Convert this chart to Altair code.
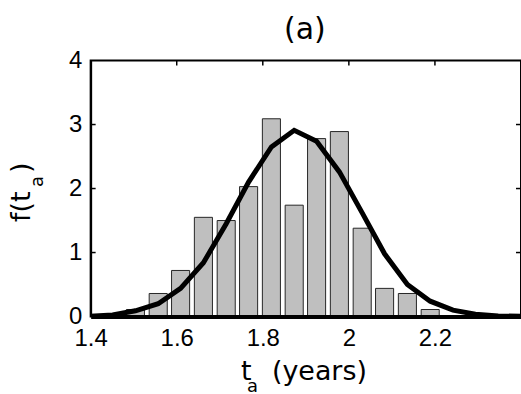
import altair as alt
import pandas as pd

# ---- data ----
bin_centers = [1.504, 1.557, 1.609, 1.662, 1.715, 1.767, 1.820, 1.873,
               1.925, 1.978, 2.031, 2.083, 2.136, 2.189]
densities = [0.11, 0.36, 0.72, 1.55, 1.50, 2.03, 3.09, 1.74,
             2.78, 2.89, 1.38, 0.44, 0.36, 0.11]

curve_x = [1.398, 1.451, 1.504, 1.557, 1.609, 1.662, 1.715, 1.767, 1.820, 1.873,
           1.925, 1.978, 2.031, 2.083, 2.136, 2.189, 2.242, 2.294, 2.347, 2.400]
curve_y = [0.005, 0.025, 0.09, 0.20, 0.44, 0.84, 1.45, 2.10, 2.65, 2.91,
           2.74, 2.26, 1.62, 0.98, 0.50, 0.24, 0.10, 0.035, 0.01, 0.003]

x_ticks = [1.4, 1.6, 1.8, 2.0, 2.2]
y_ticks = [0, 1, 2, 3, 4]
inner_x_ticks = [1.6, 1.8, 2.0, 2.2]
inner_y_ticks = [1, 2, 3]

title_text = "(a)"
xlabel_main, xlabel_sub, xlabel_rest = "t", "a", "(years)"
ylabel_main, ylabel_sub, ylabel_rest = "f(t", "a", ")"

# ---- layout / style ----
W, H = 432, 257
TICK_FONT = "Liberation Sans"
LABEL_FONT = "DejaVu Sans"
HALF_BAR = 0.021

xscale = alt.Scale(domain=[1.4, 2.4], nice=False, zero=False)
yscale = alt.Scale(domain=[0, 4], nice=False)

xaxis = alt.Axis(values=x_ticks, format=".1~f", title=None, ticks=False, tickSize=0,
                 labelPadding=10, domainWidth=4, domainColor="black", grid=False,
                 labelFont=TICK_FONT, labelFontSize=24, labelColor="black", zindex=1,
                 labelFlush=False)
yaxis = alt.Axis(values=y_ticks, format="d", title=None, ticks=False, tickSize=0,
                 labelPadding=9, domainWidth=2, domainColor="black", grid=False,
                 labelFont=TICK_FONT, labelFontSize=24, labelColor="black", zindex=1,
                 labelFlush=False)

bars_df = pd.DataFrame({"center": bin_centers, "density": densities})
curve_df = pd.DataFrame({"x": curve_x, "y": curve_y})

bars = alt.Chart(bars_df).transform_calculate(
    lo=f"datum.center - {HALF_BAR}", hi=f"datum.center + {HALF_BAR}"
).mark_bar(fill="#bfbfbf", stroke="#262626", strokeWidth=1).encode(
    x=alt.X("lo:Q", scale=xscale, axis=xaxis),
    x2="hi:Q",
    y=alt.Y("density:Q", scale=yscale, axis=yaxis),
    y2=alt.datum(0),
)

curve = alt.Chart(curve_df).mark_line(color="black", strokeWidth=5, clip=True).encode(
    x=alt.X("x:Q", scale=xscale, axis=xaxis),
    y=alt.Y("y:Q", scale=yscale, axis=yaxis),
)

xt_df = pd.DataFrame({"v": inner_x_ticks})
yt_df = pd.DataFrame({"v": inner_y_ticks})

top_ticks = alt.Chart(xt_df).mark_rule(color="black", strokeWidth=1.5).encode(
    x=alt.X("v:Q", scale=xscale, axis=xaxis), y=alt.value(0), y2=alt.value(5))
left_ticks = alt.Chart(yt_df).mark_rule(color="black", strokeWidth=1.5).encode(
    y=alt.Y("v:Q", scale=yscale, axis=yaxis), x=alt.value(0), x2=alt.value(5))
right_ticks = alt.Chart(yt_df).mark_rule(color="black", strokeWidth=1.5).encode(
    y=alt.Y("v:Q", scale=yscale, axis=yaxis), x=alt.value(W - 5), x2=alt.value(W))


def txt(s, x, y, size, angle=0, align="left"):
    return alt.Chart(pd.DataFrame({"t": [s]})).mark_text(
        font=LABEL_FONT, fontSize=size, align=align, baseline="alphabetic",
        angle=angle, color="black"
    ).encode(text="t:N", x=alt.value(x), y=alt.value(y))


texts = [
    txt(title_text, 215, -22, 30, align="center"),
    txt(xlabel_main, 151, 321, 27),
    txt(xlabel_sub, 157, 333, 18),
    txt(xlabel_rest, 182, 321, 27),
    txt(ylabel_main, -61, 162, 27, angle=270),
    txt(ylabel_sub, -48, 127, 18, angle=270),
    txt(ylabel_rest, -61, 113, 27, angle=270),
]

chart = alt.layer(bars, curve, top_ticks, left_ticks, right_ticks, *texts).properties(
    width=W, height=H,
    autosize=alt.AutoSizeParams(type="none"),
    padding={"left": 91, "top": 60, "right": 0, "bottom": 77},
    background="white",
).configure_view(stroke="black", strokeWidth=2)

chart.save("out.html", embed_options={"renderer": "svg", "actions": False})
